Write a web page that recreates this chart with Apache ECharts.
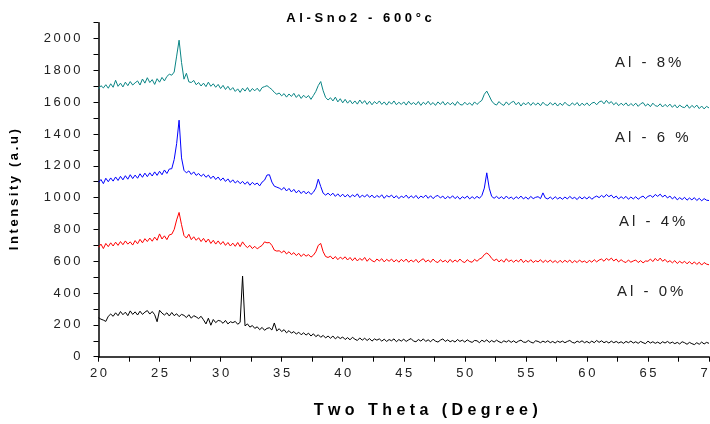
<!DOCTYPE html>
<html>
<head>
<meta charset="utf-8">
<script src="https://cdn.jsdelivr.net/npm/echarts@6/dist/echarts.min.js"></script>
<style>
html,body{margin:0;padding:0;background:#fff;}
#chart{width:710px;height:424px;}
</style>
</head>
<body>
<div id="chart"></div>
<script>
const chartTitle = 'Al-Sno2 - 600°c';
const xName = 'Two Theta (Degree)';
const yName = 'Intensity (a.u)';
const xTickLabels = [20, 25, 30, 35, 40, 45, 50, 55, 60, 65, 70];
const yTickLabels = [0, 200, 400, 600, 800, 1000, 1200, 1400, 1600, 1800, 2000];
const seriesNames = ['Al - 8%', 'Al - 6 %', 'Al - 4%', 'Al - 0%'];

const twoTheta = [
20,20.2,20.4,20.6,20.8,
21,21.2,21.4,21.6,21.8,
22,22.2,22.4,22.6,22.8,
23,23.2,23.4,23.6,23.8,
24,24.2,24.4,24.6,24.8,
25,25.2,25.4,25.6,25.8,
26,26.2,26.4,26.6,26.8,
27,27.2,27.4,27.6,27.8,
28,28.2,28.4,28.6,28.8,
29,29.2,29.4,29.6,29.8,
30,30.2,30.4,30.6,30.8,
31,31.2,31.4,31.6,31.8,
32,32.2,32.4,32.6,32.8,
33,33.2,33.4,33.6,33.8,
34,34.2,34.4,34.6,34.8,
35,35.2,35.4,35.6,35.8,
36,36.2,36.4,36.6,36.8,
37,37.2,37.4,37.6,37.8,
38,38.2,38.4,38.6,38.8,
39,39.2,39.4,39.6,39.8,
40,40.2,40.4,40.6,40.8,
41,41.2,41.4,41.6,41.8,
42,42.2,42.4,42.6,42.8,
43,43.2,43.4,43.6,43.8,
44,44.2,44.4,44.6,44.8,
45,45.2,45.4,45.6,45.8,
46,46.2,46.4,46.6,46.8,
47,47.2,47.4,47.6,47.8,
48,48.2,48.4,48.6,48.8,
49,49.2,49.4,49.6,49.8,
50,50.2,50.4,50.6,50.8,
51,51.2,51.4,51.6,51.8,
52,52.2,52.4,52.6,52.8,
53,53.2,53.4,53.6,53.8,
54,54.2,54.4,54.6,54.8,
55,55.2,55.4,55.6,55.8,
56,56.2,56.4,56.6,56.8,
57,57.2,57.4,57.6,57.8,
58,58.2,58.4,58.6,58.8,
59,59.2,59.4,59.6,59.8,
60,60.2,60.4,60.6,60.8,
61,61.2,61.4,61.6,61.8,
62,62.2,62.4,62.6,62.8,
63,63.2,63.4,63.6,63.8,
64,64.2,64.4,64.6,64.8,
65,65.2,65.4,65.6,65.8,
66,66.2,66.4,66.6,66.8,
67,67.2,67.4,67.6,67.8,
68,68.2,68.4,68.6,68.8,
69,69.2,69.4,69.6,69.8,
70];

const al8 = [
1684,1704,1690,1710,1688,
1716,1694,1738,1700,1720,
1696,1726,1704,1730,1708,
1722,1734,1708,1746,1720,
1754,1724,1742,1712,1748,
1726,1756,1734,1762,1776,
1770,1790,1890,1990,1850,
1745,1782,1728,1724,1737,
1710,1724,1702,1720,1698,
1726,1700,1716,1694,1712,
1686,1706,1680,1700,1676,
1692,1668,1684,1662,1688,
1670,1692,1666,1686,1672,
1688,1668,1692,1698,1704,
1692,1680,1662,1650,1658,
1640,1654,1632,1652,1636,
1656,1630,1648,1624,1644,
1628,1642,1618,1642,1668,
1705,1730,1672,1630,1614,
1628,1608,1632,1602,1622,
1596,1618,1594,1612,1590,
1608,1588,1614,1592,1610,
1586,1606,1584,1604,1590,
1608,1586,1602,1582,1604,
1588,1608,1584,1600,1586,
1602,1582,1606,1586,1598,
1584,1604,1580,1600,1586,
1606,1584,1598,1580,1602,
1586,1604,1582,1600,1584,
1598,1580,1604,1586,1582,
1600,1584,1596,1580,1602,
1586,1600,1612,1650,1670,
1640,1608,1590,1582,1604,
1588,1580,1602,1584,1598,
1606,1584,1600,1576,1596,
1584,1600,1580,1598,1582,
1596,1578,1600,1584,1580,
1598,1582,1596,1576,1594,
1580,1600,1584,1578,1596,
1582,1598,1576,1594,1580,
1596,1578,1594,1600,1584,
1602,1608,1590,1612,1592,
1604,1584,1598,1578,1594,
1580,1596,1576,1592,1578,
1594,1574,1590,1598,1576,
1590,1572,1594,1578,1574,
1590,1570,1586,1572,1588,
1568,1584,1564,1582,1570,
1566,1584,1562,1580,1566,
1582,1560,1576,1558,1574,
1564];

const al6 = [
1096,1114,1088,1122,1100,
1124,1104,1130,1108,1134,
1112,1138,1116,1144,1120,
1142,1122,1150,1128,1154,
1132,1156,1136,1162,1140,
1166,1144,1174,1152,1180,
1182,1240,1340,1487,1250,
1172,1156,1168,1146,1162,
1140,1152,1134,1148,1128,
1142,1120,1136,1114,1130,
1108,1124,1102,1118,1096,
1112,1092,1106,1088,1102,
1084,1100,1078,1096,1082,
1092,1074,1098,1110,1142,
1144,1098,1072,1066,1060,
1050,1064,1042,1058,1036,
1052,1030,1046,1026,1042,
1024,1038,1020,1034,1060,
1116,1070,1028,1016,1028,
1014,1028,1008,1024,1006,
1022,1004,1020,1002,1018,
1006,1024,1000,1016,1004,
1020,1002,1016,998,1014,
1002,1018,996,1014,1004,
1016,998,1012,994,1010,
1000,1016,996,1012,998,
1014,994,1010,1000,1016,
996,1012,994,1008,1014,
998,1010,992,1008,996,
1012,994,1008,990,1006,
996,1010,992,1006,994,
1008,996,1014,1060,1156,
1060,1008,996,1008,994,
1006,992,1010,994,1004,
990,1006,994,1010,992,
1004,990,1008,994,1002,
1006,994,1030,998,992,
1004,990,1006,992,1002,
990,1004,992,1008,994,
1002,988,1006,992,1004,
992,1006,990,1002,1010,
1000,1014,1002,1020,1006,
1016,998,1010,992,1006,
994,1008,990,1004,992,
1006,990,1002,1010,994,
1008,1014,1002,1020,1008,
1022,1004,1016,998,1010,
992,1006,986,1000,988,
1002,984,998,986,1000,
982,996,980,994,984,
982];

const al4 = [
688,708,680,712,692,
716,696,720,700,724,
704,728,708,722,702,
730,710,738,716,742,
724,746,726,752,732,
772,740,760,736,766,
770,800,860,907,830,
762,746,770,736,754,
732,748,724,744,720,
740,712,732,708,728,
706,724,700,718,696,
714,694,718,692,722,
700,686,700,680,694,
678,690,700,722,716,
718,700,670,664,666,
654,666,646,660,642,
654,636,650,630,646,
632,642,626,638,660,
700,712,660,630,624,
632,614,630,610,626,
614,628,608,624,604,
622,602,618,606,624,
600,618,604,596,614,
602,616,596,612,600,
614,596,610,594,612,
598,614,594,608,596,
612,592,606,616,596,
608,594,614,598,592,
610,596,606,592,612,
594,608,596,614,598,
592,610,598,594,612,
600,614,622,642,652,
640,618,604,614,596,
610,594,616,598,608,
594,608,596,614,592,
606,594,610,592,604,
596,610,592,606,594,
608,592,604,590,606,
592,606,594,608,590,
604,592,608,594,602,
590,606,594,610,596,
608,614,600,618,606,
620,602,614,596,610,
598,592,608,594,602,
608,592,604,590,602,
600,614,598,618,602,
620,600,612,594,604,
590,604,586,600,588,
600,584,598,582,596,
580,594,576,592,582,
578];

const al0 = [
245,236,230,222,254,
268,254,276,258,284,
264,280,258,288,266,
282,262,286,266,280,
290,268,284,264,220,
292,274,262,276,256,
278,258,270,252,266,
260,246,264,242,258,
250,240,254,232,206,
242,198,234,214,228,
224,210,228,206,220,
214,222,204,216,507,
194,206,186,196,178,
188,170,184,166,178,
182,168,212,162,176,
158,170,150,164,148,
158,142,154,138,150,
136,148,130,144,126,
138,122,134,118,130,
116,130,112,126,114,
124,108,120,106,122,
110,102,118,104,116,
102,114,98,112,104,
112,98,110,96,108,
100,112,94,108,98,
110,96,106,114,98,
94,108,98,112,96,
106,94,110,98,92,
104,112,96,106,94,
102,92,108,96,104,
92,106,96,90,102,
100,88,104,94,106,
90,102,92,104,94,
88,100,92,102,90,
100,88,98,104,92,
90,102,92,86,100,
96,88,98,90,100,
88,96,86,98,90,
98,88,96,102,90,
86,98,90,100,88,
96,86,98,88,102,
90,100,88,96,86,
98,88,96,86,94,
84,96,88,98,86,
94,84,96,88,82,
98,86,94,84,92,
82,94,86,96,84,
92,82,90,80,94,
88,78,90,82,76,
88,78,92,80,90,
84];

const seriesValues = [al8, al6, al4, al0];
const seriesColors = ['#0a8585', '#0000ff', '#ff0000', '#000000'];

function spaced(s, sep) { return Array.from(String(s)).join(sep); }
const FONT = "'Liberation Sans', Arial, sans-serif";

const chart = echarts.init(document.getElementById('chart'), null, {renderer: 'canvas'});

const series = seriesValues.map((vals, k) => ({
  name: seriesNames[k],
  type: 'line',
  data: twoTheta.map((x, i) => [x, vals[i]]),
  showSymbol: false,
  symbol: 'none',
  lineStyle: {color: seriesColors[k], width: 1},
  itemStyle: {color: seriesColors[k]},
  animation: false
}));

const labelY = [62.5, 137.5, 222, 291.5];
const labelX = [615, 615, 619, 617];

chart.setOption({
  animation: false,
  backgroundColor: '#ffffff',
  title: {
    text: spaced(chartTitle, ' '),
    left: 354,
    top: 7,
    textAlign: 'center',
    textStyle: {fontFamily: FONT, fontSize: 13, fontWeight: 'bold', color: '#000'}
  },
  grid: {left: 98.5, right: 1, top: 22.7, bottom: 67.3, containLabel: false, outerBoundsMode: 'none'},
  xAxis: {
    type: 'value',
    min: 20, max: 70, interval: 2.5,
    name: spaced(xName, ' '),
    nameLocation: 'middle',
    nameGap: 46,
    nameTextStyle: {fontFamily: FONT, fontSize: 16, fontWeight: 'bold', color: '#000', padding: [0, 0, 0, 44]},
    axisLine: {show: true, onZero: false, lineStyle: {color: '#000', width: 1.5}},
    axisTick: {show: true, inside: false, length: 5, lineStyle: {color: '#000', width: 1}},
    axisLabel: {
      margin: 10,
      fontFamily: FONT, fontSize: 13, color: '#222',
      hideOverlap: false,
      formatter: v => xTickLabels.includes(v) ? spaced(v, '\u2009') : ''
    },
    splitLine: {show: false}
  },
  yAxis: {
    type: 'value',
    min: 0, max: 2100, interval: 100,
    name: spaced(yName, '\u2009'),
    nameLocation: 'middle',
    nameGap: 78,
    nameRotate: 90,
    nameTextStyle: {fontFamily: FONT, fontSize: 13, fontWeight: 'bold', color: '#000'},
    axisLine: {show: true, onZero: false, lineStyle: {color: '#000', width: 1.5}},
    axisTick: {show: true, inside: false, length: 5, lineStyle: {color: '#000', width: 1}},
    axisLabel: {
      margin: 18,
      fontFamily: FONT, fontSize: 13, color: '#222',
      formatter: v => yTickLabels.includes(v) ? spaced(v, '\u2009') : ''
    },
    splitLine: {show: false}
  },
  graphic: seriesNames.map((n, k) => ({
    type: 'text',
    x: labelX[k],
    y: labelY[k],
    silent: true,
    style: {
      text: spaced(n, '\u2009'),
      font: "15px 'Liberation Sans', Arial, sans-serif",
      fill: '#222',
      textAlign: 'left',
      textVerticalAlign: 'middle',
      align: 'left',
      verticalAlign: 'middle'
    }
  })),
  series: series
});
</script>
</body>
</html>
